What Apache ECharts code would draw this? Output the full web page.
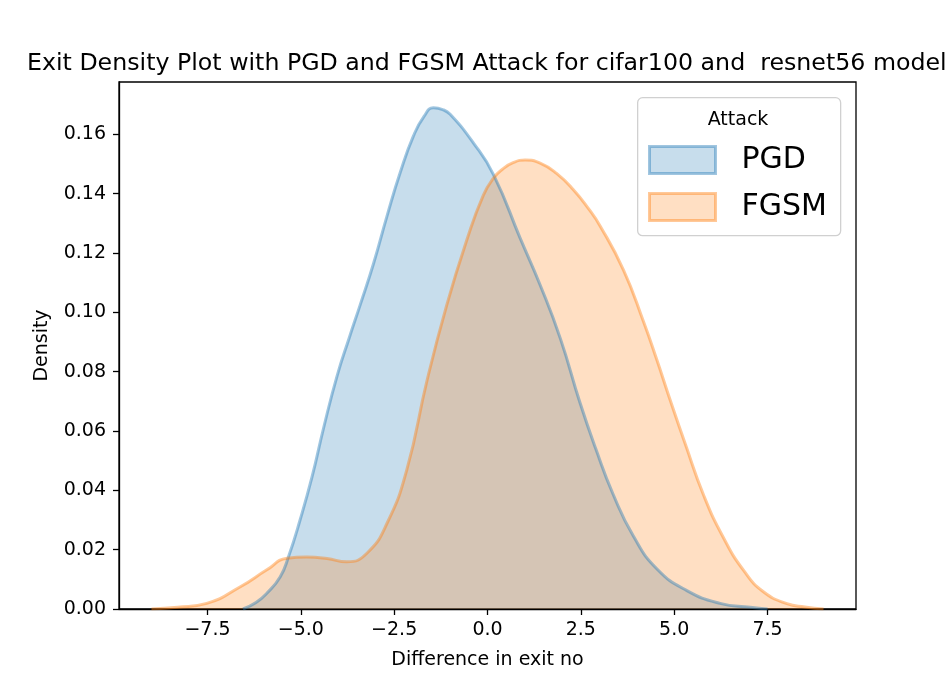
<!DOCTYPE html>
<html>
<head>
<meta charset="utf-8">
<script src="https://cdn.jsdelivr.net/npm/echarts@6/dist/echarts.min.js"></script>
<style>
html,body{margin:0;padding:0;background:#fff;}
#chart{width:951px;height:685px;}
</style>
</head>
<body>
<div id="chart"></div>
<script>
const pgdX = [-6.55, -6.2, -5.91, -5.55, -5.33, -5.02, -4.70, -4.39, -4.03, -3.70, -3.41, -3.05, -2.69, -2.34, -1.98, -1.70, -1.45, -1.20, -1.00, -0.38, 0.16, 0.88, 1.41, 1.95, 2.48, 2.90, 3.37, 3.91, 4.54, 5.34, 6.23, 7.04, 7.50];
const pgdY = [0, 0.0022, 0.0053, 0.0109, 0.0176, 0.0300, 0.0445, 0.0610, 0.0785, 0.0915, 0.1025, 0.1165, 0.1325, 0.1470, 0.1595, 0.1660, 0.1689, 0.1683, 0.1667, 0.1571, 0.1464, 0.1248, 0.1092, 0.0912, 0.0694, 0.0540, 0.0385, 0.0245, 0.0135, 0.0062, 0.0019, 0.0006, 0];
const fgsmX = [-9.0, -8.3, -7.52, -6.62, -5.91, -5.37, -4.84, -4.30, -3.77, -3.23, -2.69, -2.16, -1.62, -1.09, -0.55, -0.11, 0.16, 0.40, 0.70, 1.01, 1.41, 1.85, 2.30, 2.70, 3.02, 3.64, 4.18, 4.54, 4.89, 5.30, 5.80, 6.32, 6.86, 7.39, 8.02, 8.5, 9.0];
const fgsmY = [0, 0.0006, 0.0019, 0.0075, 0.0132, 0.0171, 0.0175, 0.0170, 0.0159, 0.0188, 0.0289, 0.0470, 0.0770, 0.1025, 0.1245, 0.1395, 0.1452, 0.1482, 0.1505, 0.1513, 0.1503, 0.1468, 0.1413, 0.1350, 0.1290, 0.1143, 0.0968, 0.0838, 0.0705, 0.0555, 0.0380, 0.0240, 0.0130, 0.0058, 0.0018, 0.0007, 0];
const xTicks = [-7.5, -5.0, -2.5, 0.0, 2.5, 5.0, 7.5];
const yTicks = [0, 0.02, 0.04, 0.06, 0.08, 0.10, 0.12, 0.14, 0.16];
const seriesNames = ['PGD', 'FGSM'];
const titleText = 'Exit Density Plot with PGD and FGSM Attack for cifar100 and  resnet56 model';

const FONT = 'DejaVu Sans';
const pair = (xs, ys) => xs.map((x, i) => [x, ys[i]]);
const chart = echarts.init(document.getElementById('chart'), null, {renderer: 'canvas'});

const blue = '31,119,180', orange = '255,127,14';
function mkSeries(name, data, rgb) {
  return {
    name: name, type: 'line', data: data,
    smooth: 0.5,
    showSymbol: false, symbol: 'none',
    lineStyle: {color: 'rgba(' + rgb + ',0.42)', width: 3, opacity: 1},
    itemStyle: {color: 'rgba(' + rgb + ',0.42)'},
    areaStyle: {color: 'rgba(' + rgb + ',0.25)', origin: 'start', opacity: 1},
    emphasis: {disabled: true},
    z: 2,
    animation: false
  };
}

chart.setOption({
  animation: false,
  backgroundColor: '#fff',
  textStyle: {fontFamily: FONT},
  title: {
    text: titleText, left: 27, top: 52, padding: 0,
    textStyle: {fontFamily: FONT, fontSize: 23.7, fontWeight: 'normal', color: '#000'}
  },
  grid: {left: 119, right: 95, top: 82, bottom: 76, show: true, borderColor: '#000', borderWidth: 1.3, backgroundColor: 'transparent'},
  xAxis: {
    type: 'value', min: -9.87, max: 9.87,
    name: 'Difference in exit no', nameLocation: 'middle', nameGap: 42,
    nameTextStyle: {fontFamily: FONT, fontSize: 19, color: '#000'},
    axisLine: {show: true, onZero: false, lineStyle: {color: '#000', width: 1.3}},
    axisTick: {show: true, length: 6, lineStyle: {color: '#000', width: 1.3}, customValues: xTicks},
    axisLabel: {show: true, margin: 12, fontFamily: FONT, fontSize: 19, color: '#000',
      customValues: xTicks,
      formatter: v => Number(v).toFixed(1).replace('-', '\u2212')},
    splitLine: {show: false}
  },
  yAxis: {
    type: 'value', min: 0, max: 0.1776,
    name: 'Density', nameLocation: 'middle', nameGap: 67, nameRotate: 90,
    nameTextStyle: {fontFamily: FONT, fontSize: 19, color: '#000'},
    axisLine: {show: true, onZero: false, lineStyle: {color: '#000', width: 1.3}},
    axisTick: {show: true, length: 6, lineStyle: {color: '#000', width: 1.3}, customValues: yTicks},
    axisLabel: {show: true, margin: 13, fontFamily: FONT, fontSize: 19, color: '#000',
      customValues: yTicks,
      formatter: v => Number(v).toFixed(2)},
    splitLine: {show: false}
  },
  legend: {
    orient: 'vertical', left: 643, top: 140, z: 20,
    itemWidth: 66, itemHeight: 27, itemGap: 17,
    icon: 'rect',
    selectedMode: false,
    inactiveColor: '#000',
    textStyle: {fontFamily: FONT, fontSize: 30, color: '#000', lineHeight: 27, padding: [0, 0, 0, 21]},
    data: [
      {name: seriesNames[0], itemStyle: {color: 'rgba(' + blue + ',0.25)', borderColor: 'rgba(' + blue + ',0.42)', borderWidth: 3, opacity: 1}},
      {name: seriesNames[1], itemStyle: {color: 'rgba(' + orange + ',0.25)', borderColor: 'rgba(' + orange + ',0.42)', borderWidth: 3, opacity: 1}}
    ]
  },
  graphic: {
    elements: [
      {type: 'rect', left: 637, top: 97, z: 5, silent: true,
       shape: {width: 203, height: 138, r: 5},
       style: {fill: 'rgba(255,255,255,0.8)', stroke: '#d0d0d0', lineWidth: 1.3}},
      {type: 'text', z: 6, silent: true, x: 738, y: 120,
       style: {text: 'Attack', fontFamily: FONT, fontSize: 19, fill: '#000', textAlign: 'center', textVerticalAlign: 'middle'}}
    ]
  },
  series: [
    mkSeries(seriesNames[0], pair(pgdX, pgdY), blue),
    mkSeries(seriesNames[1], pair(fgsmX, fgsmY), orange)
  ]
});
</script>
</body>
</html>
